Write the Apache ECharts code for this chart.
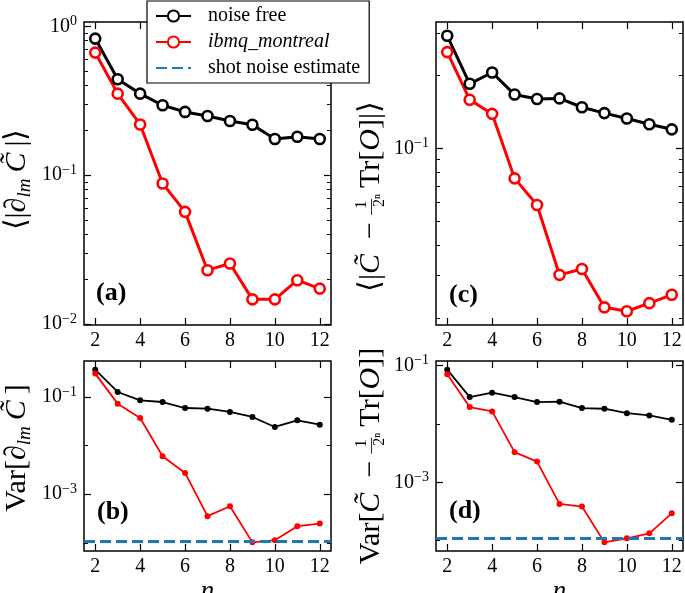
<!DOCTYPE html>
<html><head><meta charset="utf-8">
<script src="https://cdn.jsdelivr.net/npm/echarts@6/dist/echarts.min.js"></script>
<style>html,body{margin:0;padding:0;background:#fff}#c{width:685px;height:593px}</style>
</head><body><div id="c"></div>
<script>
// ---------------- data ----------------
const nValues = [2, 3, 4, 5, 6, 7, 8, 9, 10, 11, 12];
const xTicks = [2, 4, 6, 8, 10, 12];
// (a) mean |gradient|
const gradNoiseFree = [0.827, 0.441, 0.353, 0.295, 0.266, 0.250, 0.231, 0.218, 0.175, 0.181, 0.175];
const gradMontreal  = [0.666, 0.353, 0.219, 0.0880, 0.0567, 0.0230, 0.0255, 0.01465, 0.01465, 0.0197, 0.0173];
// (c) mean |cost - Tr[O]/2^n|
const costNoiseFree = [0.292, 0.185, 0.206, 0.167, 0.160, 0.161, 0.148, 0.140, 0.133, 0.126, 0.120];
const costMontreal  = [0.250, 0.159, 0.139, 0.0753, 0.0585, 0.0301, 0.0318, 0.0221, 0.0213, 0.0230, 0.0249];
// (b) variance of gradient
const gradVarNoiseFree = [0.366, 0.127, 0.0855, 0.0789, 0.0594, 0.0575, 0.0492, 0.0388, 0.0242, 0.0332, 0.0270];
const gradVarMontreal  = [0.303, 0.0730, 0.0370, 0.00604, 0.00274, 0.000353, 0.000566, 0.000102, 0.000113, 0.000220, 0.000249];
// (d) variance of cost
const costVarNoiseFree = [0.0844, 0.0286, 0.0340, 0.0286, 0.0235, 0.0239, 0.0186, 0.0181, 0.0152, 0.0139, 0.0117];
const costVarMontreal  = [0.0701, 0.0193, 0.0163, 0.00327, 0.00226, 0.000427, 0.000384, 0.0000938, 0.000110, 0.000134, 0.000294];
// shot-noise estimates
const shotNoiseGradVar = 1.10e-4;
const shotNoiseCostVar = 1.12e-4;
// y-axis range of panel (a) (set by hand in the original)
const gradRange = [0.00985, 1.069];
// tick values
const majorTicksEvery = [1e-5, 1e-4, 1e-3, 1e-2, 1e-1, 1];
const majorTicksEvery2 = [1e-5, 1e-3, 1e-1];
const minorTicksEvery2 = [1e-4, 1e-2, 1];
const seriesNames = ['noise free', 'ibmq_montreal', 'shot noise estimate'];
const panelLabels = ['(a)', '(c)', '(b)', '(d)'];

// ---------------- helpers ----------------
const FONT = 'Liberation Serif';
const minorSubs = [];
for (let e = -5; e <= 0; e++) for (let k = 2; k <= 9; k++) minorSubs.push(+(k * Math.pow(10, e)).toPrecision(3));

function autoLogRange(arrs) {           // matplotlib-like 5% margins in log space
  let lo = Infinity, hi = -Infinity;
  arrs.forEach(a => a.forEach(v => { const l = Math.log10(v); lo = Math.min(lo, l); hi = Math.max(hi, l); }));
  const m = (hi - lo) * 0.05;
  return [Math.pow(10, lo - m), Math.pow(10, hi + m)];
}
const supFmt = v => {
  const e = Math.round(Math.log10(v));
  return '{b|10}{s|' + (e < 0 ? '\u2212' + (-e) : e) + '}';
};
const tickRich = {
  b: {fontFamily: FONT, fontSize: 20, color: '#000', lineHeight: 24},
  s: {fontFamily: FONT, fontSize: 14, color: '#000', lineHeight: 14, verticalAlign: 'top'}
};
const NF = 30;
const nameRich = {
  p: {fontFamily: FONT, fontSize: NF, color: '#000', lineHeight: 34},
  i: {fontFamily: FONT, fontSize: NF, fontStyle: 'italic', color: '#000', lineHeight: 34},
  d: {fontFamily: FONT, fontSize: NF, fontStyle: 'italic', color: '#000', lineHeight: 34},
  sub: {fontFamily: FONT, fontSize: 19, fontStyle: 'italic', color: '#000', lineHeight: 22, verticalAlign: 'bottom'},
  fn: {fontFamily: FONT, fontSize: 16, color: '#000', lineHeight: 16, verticalAlign: 'top', width: 0.01, align: 'left'},
  fb: {fontFamily: FONT, fontSize: 16, color: '#000', lineHeight: 16, verticalAlign: 'middle', width: 0.01, align: 'left'},
  fd: {fontFamily: FONT, fontSize: 16, color: '#000', lineHeight: 16, verticalAlign: 'bottom'}
};
const FRAC = '{fn|\u2009\u200A1}{fb|\u2014}{fd|2\u207F}';
const T = '\u2009';   // thin space
const E = '\u2002';   // en space

const grids = [
  {left: 84, top: 22, width: 247, height: 303},
  {left: 436, top: 22, width: 247, height: 303},
  {left: 84, top: 361, width: 247, height: 190},
  {left: 436, top: 361, width: 247, height: 190}
].map(g => Object.assign(g, {show: true, borderColor: '#000', borderWidth: 1.5, backgroundColor: 'transparent', outerBoundsMode: 'none', containLabel: false}));

const xAxis = [], yAxis = [];
function addX(gi, showName) {
  const base = {type: 'value', gridIndex: gi, min: 1.5, max: 12.5, splitLine: {show: false}, axisLine: {show: false}};
  xAxis.push(Object.assign({}, base, {
    position: 'bottom',
    axisTick: {inside: true, length: 7, lineStyle: {color: '#000', width: 1.2}, customValues: xTicks},
    axisLabel: {margin: 6, fontFamily: FONT, fontSize: 20, color: '#000', customValues: xTicks},
    name: showName ? 'n' : '', nameLocation: 'middle', nameGap: 27,
    nameTextStyle: {fontFamily: FONT, fontSize: 27, fontStyle: 'italic', color: '#000'}
  }));
  xAxis.push(Object.assign({}, base, {
    position: 'top',
    axisTick: {inside: true, length: 7, lineStyle: {color: '#000', width: 1.2}, customValues: xTicks},
    axisLabel: {show: false}
  }));
}
function addY(gi, range, majors, minors, name, gap, pad) {
  const base = {type: 'log', logBase: 10, gridIndex: gi, min: range[0], max: range[1], splitLine: {show: false}, axisLine: {show: false}};
  const major = {inside: true, length: 7, lineStyle: {color: '#000', width: 1.2}, customValues: majors};
  const minor = {inside: true, length: 4, lineStyle: {color: '#000', width: 1}, customValues: minors};
  yAxis.push(Object.assign({}, base, {
    position: 'left', axisTick: major,
    axisLabel: {margin: 7, customValues: majors, formatter: supFmt, rich: tickRich},
    name: name, nameLocation: 'middle', nameGap: gap, nameRotate: 90,
    nameTextStyle: {rich: nameRich, padding: pad}
  }));
  yAxis.push(Object.assign({}, base, {position: 'left', axisTick: minor, axisLabel: {show: false}}));
  yAxis.push(Object.assign({}, base, {position: 'right', axisTick: major, axisLabel: {show: false}}));
  yAxis.push(Object.assign({}, base, {position: 'right', axisTick: minor, axisLabel: {show: false}}));
}

addX(0, false); addX(1, false); addX(2, true); addX(3, true);
addY(0, gradRange, majorTicksEvery, minorSubs,
  '{p|\u27E8|}{d|\u2202}{sub|lm}{i|' + T + 'C\u0303' + T + '}{p||\u27E9}', 50, [0, 12, 0, 0]);
addY(1, autoLogRange([costNoiseFree, costMontreal]), majorTicksEvery, minorSubs,
  '{p|\u27E8|}{i|C\u0303}{p|' + E + '\u2212' + E + '}' + FRAC +
  '{p|' + T + 'Tr[}{i|O}{p|]|\u27E9}', 48, [0, 46, 0, 0]);
addY(2, autoLogRange([gradVarNoiseFree, gradVarMontreal]), majorTicksEvery2, minorTicksEvery2,
  '{p|Var[}{d|\u2202}{sub|lm}{i|' + T + 'C\u0303' + T + '}{p|]}', 50, [0, 0, 0, 16]);
addY(3, autoLogRange([costVarNoiseFree, costVarMontreal]), majorTicksEvery2, minorTicksEvery2,
  '{p|Var[}{i|C\u0303}{p|' + E + '\u2212' + E + '}' + FRAC + '{p|' + T + 'Tr[}{i|O}{p|]]}', 48, 0);

const pairs = (arr) => nValues.map((n, i) => [n, arr[i]]);
const SHOT_STYLE = {color: '#1f77b4', width: 3, type: [11, 5]};
const series = [];
function hollow(gi, name, color, arr) {
  series.push({type: 'line', name, xAxisIndex: gi * 2, yAxisIndex: gi * 4, data: pairs(arr),
    symbol: 'circle', symbolSize: 10, showSymbol: true,
    lineStyle: {color, width: 3}, itemStyle: {color: '#fff', borderColor: color, borderWidth: 2.6},
    animation: false, silent: true});
}
function solid(gi, name, color, arr, shotValue) {
  const s = {type: 'line', name, xAxisIndex: gi * 2, yAxisIndex: gi * 4, data: pairs(arr),
    symbol: 'circle', symbolSize: 6, showSymbol: true,
    lineStyle: {color, width: 1.8}, itemStyle: {color, borderWidth: 0},
    animation: false, silent: true};
  if (shotValue !== undefined) {
    s.markLine = {silent: true, symbol: ['none', 'none'], label: {show: false}, animation: false,
      precision: 12, lineStyle: SHOT_STYLE, emphasis: {disabled: true}, data: [{yAxis: shotValue}]};
  }
  series.push(s);
}
hollow(0, seriesNames[0], '#000', gradNoiseFree);
hollow(0, seriesNames[1], '#ff0000', gradMontreal);
hollow(1, seriesNames[0], '#000', costNoiseFree);
hollow(1, seriesNames[1], '#ff0000', costMontreal);
solid(2, seriesNames[0], '#000', gradVarNoiseFree);
solid(2, seriesNames[1], '#ff0000', gradVarMontreal, shotNoiseGradVar);
solid(3, seriesNames[0], '#000', costVarNoiseFree);
solid(3, seriesNames[1], '#ff0000', costVarMontreal, shotNoiseCostVar);
// legend-only entry for the shot-noise lines
series.push({type: 'line', name: seriesNames[2], xAxisIndex: 4, yAxisIndex: 8, data: [],
  symbol: 'none', lineStyle: SHOT_STYLE, itemStyle: {color: '#1f77b4'}, animation: false, silent: true});

const labelPos = [[96, 280], [449, 282], [97, 499], [449, 498]];
const title = panelLabels.map((t, i) => ({text: t, left: labelPos[i][0], top: labelPos[i][1], padding: 0,
  textStyle: {fontFamily: FONT, fontWeight: 'bold', fontSize: 26, color: '#000'}}));

const chart = echarts.init(document.getElementById('c'), null, {renderer: 'canvas'});
chart.setOption({
  animation: false,
  backgroundColor: '#fff',
  title,
  grid: grids,
  xAxis, yAxis, series,
  legend: {
    left: 147, top: 1, orient: 'vertical', z: 10,
    itemWidth: 35, itemHeight: 14, itemGap: 6, padding: [5, 9, 5, 8],
    borderColor: '#000', borderWidth: 1.2, borderRadius: 0, backgroundColor: '#fff',
    selectedMode: false,
    data: [seriesNames[0], seriesNames[1], {name: seriesNames[2], itemStyle: {opacity: 0}}],
    textStyle: {fontFamily: FONT, fontSize: 20, color: '#000', padding: [0, 0, 0, 12],
      rich: {i: {fontFamily: FONT, fontSize: 20, fontStyle: 'italic', color: '#000'}}},
    formatter: name => name === 'ibmq_montreal' ? '{i|ibmq_montreal}' : name
  }
});
</script></body></html>
